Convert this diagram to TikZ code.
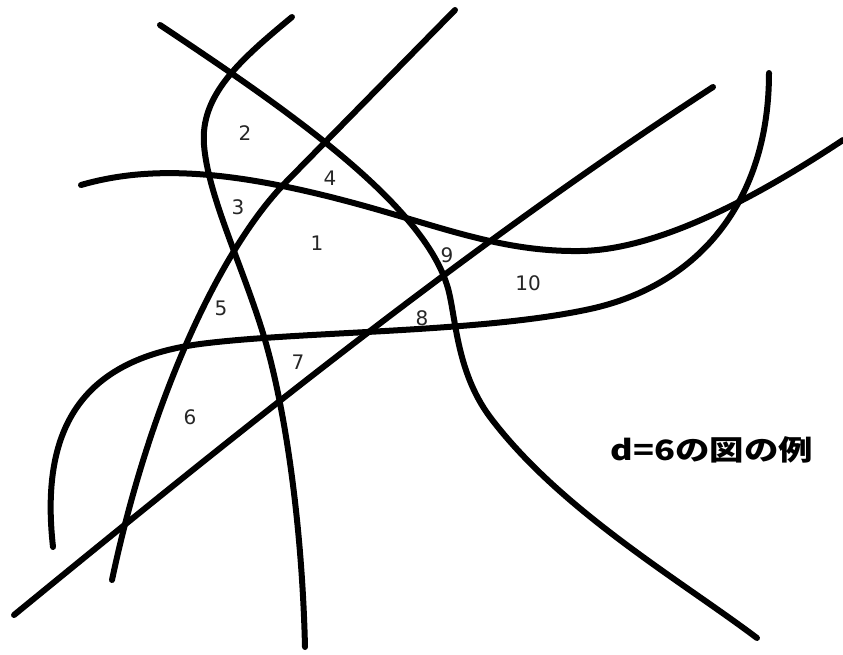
\documentclass[tikz,border=0pt]{standalone}
\usepackage{fontspec}
\setmainfont{DejaVu Sans}
\newfontfamily\cjk{Noto Sans CJK JP}
\begin{document}
\begin{tikzpicture}[x=1pt,y=-1pt,
  curve/.style={line width=6pt,line cap=round,line join=round},
  num/.style={font=\fontsize{20}{20}\selectfont,text=black!85,inner sep=0pt}]
\useasboundingbox (0,0) rectangle (843,654);
% curve P
\draw[curve] (292,17) .. controls (240,60) and (200,95) .. (204,145)
  .. controls (208,195) and (240,260) .. (262,330)
  .. controls (284,400) and (302,520) .. (305,647);
% curve A
\draw[curve] (455,10) -- (285,183) .. controls (220,250) and (150,400) .. (112,580);
% curve B
\draw[curve] (160,25) .. controls (280,105) and (420,200) .. (447,285)
  .. controls (456,313) and (455,370) .. (490,417)
  .. controls (560,510) and (680,580) .. (757,638);
% line C
\draw[curve] (14,615) .. controls (240,430) and (470,245) .. (713,87);
% curve D
\draw[curve] (81,185) .. controls (150,165) and (230,170) .. (350,202)
  .. controls (440,226) and (500,252) .. (580,251)
  .. controls (660,250) and (760,195) .. (843,140);
% curve E
\draw[curve] (53,547) .. controls (40,430) and (80,360) .. (200,344)
  .. controls (300,331) and (480,333) .. (590,309)
  .. controls (700,285) and (769,200) .. (769,73);
% labels
\node[num] (n1) at (317,243) {1};
\node[num] (n2) at (245,133) {2};
\node[num] (n3) at (238,207) {3};
\node[num] (n4) at (330,178) {4};
\node[num] (n5) at (221,308) {5};
\node[num] (n6) at (190,417) {6};
\node[num] (n7) at (298,362) {7};
\node[num] (n8) at (422,318) {8};
\node[num] (n9) at (447,255) {9};
\node[num] (n10) at (528,283) {10};
\node[inner sep=0pt] (title) at (712,450) {\scalebox{1.23}[1]{\cjk\bfseries\fontsize{28}{28}\selectfont d=6の図の例}};
\end{tikzpicture}
\end{document}
